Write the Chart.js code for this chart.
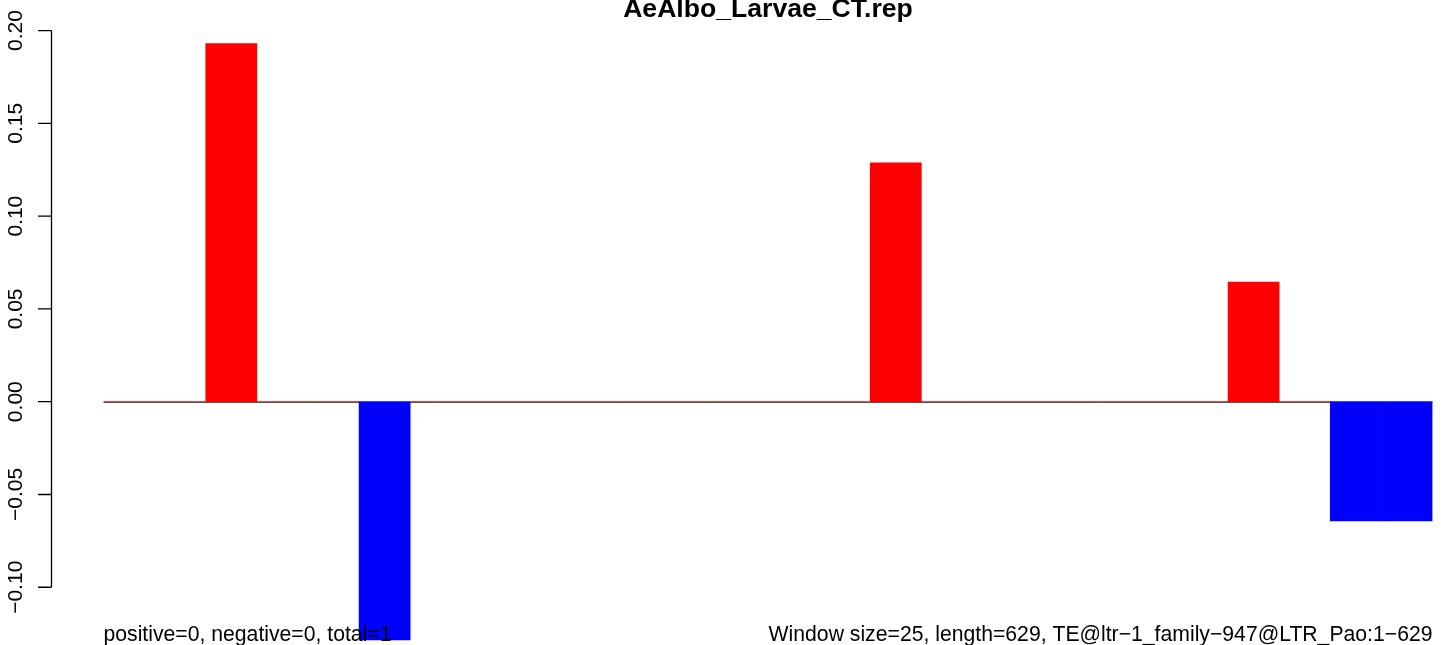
<!DOCTYPE html>
<html>
<head>
<meta charset="utf-8">
<script src="https://cdn.jsdelivr.net/npm/chart.js@4.4.1/dist/chart.umd.min.js"></script>
<style>
  body{margin:0;background:#fff;}
  canvas{display:block;}
</style>
</head>
<body>
<canvas id="chart" width="1441" height="645"></canvas>
<script>
// windows of 25 bp along the 629 bp element (26 windows)
const windows = ["1","2","3","4","5","6","7","8","9","10","11","12","13","14","15","16","17","18","19","20","21","22","23","24","25","26"];
const scores  = [0,0,0.193,0,0,-0.1284,0,0,0,0,0,0,0,0,0,0.1287,0,0,0,0,0,0,0.0645,0,-0.0642,-0.0642];
const yTicks  = [0.20,0.15,0.10,0.05,0.00,-0.05,-0.10];
const title   = "AeAlbo_Larvae_CT.rep";
const leftNote  = "positive=0, negative=0, total=1";
const rightNote = "Window size=25, length=629, TE@ltr\u22121_family\u2212947@LTR_Pao:1\u2212629";

const FONT = '"Liberation Sans", Arial, sans-serif';

// R style extras: zero line, detached y axis, title and notes
const rDecor = {
    id:"rDecor",
    beforeDatasetsDraw(chart){
        const ctx = chart.ctx, a = chart.chartArea, y = chart.scales.y
        const y0 = Math.round(y.getPixelForValue(0)) + 0.5
        ctx.save()
        ctx.strokeStyle = "#555"
        ctx.lineWidth = 1
        ctx.beginPath()
        ctx.moveTo(a.left, y0)
        ctx.lineTo(a.right, y0)
        ctx.stroke()
        ctx.restore()
    },
    afterDraw(chart){
        const ctx = chart.ctx, a = chart.chartArea, y = chart.scales.y
        const axX = 51.5
        ctx.save()
        ctx.strokeStyle = "#000"
        ctx.lineWidth = 1.3
        ctx.beginPath()
        ctx.moveTo(axX, y.getPixelForValue(yTicks[0]))
        ctx.lineTo(axX, y.getPixelForValue(yTicks[yTicks.length-1]))
        yTicks.forEach(t=>{
            const py = y.getPixelForValue(t)
            ctx.moveTo(axX, py)
            ctx.lineTo(38, py)
        })
        ctx.stroke()
        // rotated tick labels
        ctx.fillStyle = "#000"
        ctx.font = "21px " + FONT
        ctx.textAlign = "center"
        ctx.textBaseline = "alphabetic"
        yTicks.forEach(t=>{
            const py = y.getPixelForValue(t)
            const s = t.toFixed(2).replace("-", "\u2212")
            ctx.save()
            ctx.translate(22, py)
            ctx.rotate(-Math.PI/2)
            ctx.fillText(s, 0, 0)
            ctx.restore()
        })
        // title
        ctx.font = "bold 26.6px " + FONT
        ctx.textAlign = "center"
        ctx.fillText(title, (a.left + a.right)/2, 17)
        // bottom notes
        ctx.font = "21.2px " + FONT
        ctx.textAlign = "left"
        ctx.fillText(leftNote, a.left, 641)
        ctx.textAlign = "right"
        ctx.fillText(rightNote, a.right, 641)
        ctx.restore()
    }
}

new Chart(document.getElementById("chart").getContext("2d"), {
    type: "bar",
    data: {
        labels: windows,
        datasets: [{
            data: scores,
            backgroundColor: scores.map(v => v >= 0 ? "#ff0000" : "#0000ff"),
            borderWidth: 0,
            barPercentage: 1,
            categoryPercentage: 1
        }]
    },
    options: {
        responsive: false,
        animation: false,
        layout: { padding: { left: 103.5, right: 8.5, top: 0, bottom: 0 } },
        scales: {
            x: { display: false, offset: true },
            y: { display: false, min: -0.13112, max: 0.21648 }
        },
        plugins: {
            legend: { display: false },
            tooltip: { enabled: false },
            title: { display: false }
        }
    },
    plugins: [rDecor]
});
</script>
</body>
</html>
